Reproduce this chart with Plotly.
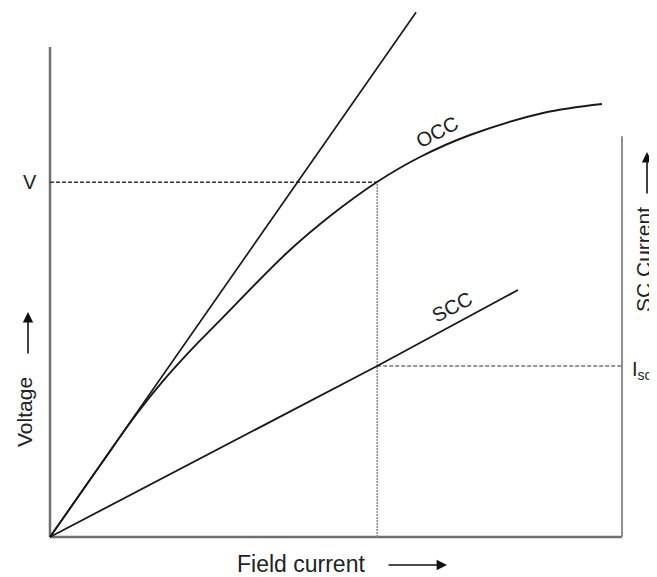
import plotly.graph_objects as go

# ---- data (arbitrary units) ----
occ_x = [0, 8.74, 15.21, 20.10, 25.00, 29.72, 41.43, 49.30, 57.17, 64.69, 73.43, 86.19, 96.50]
occ_y = [0, 14.59, 25.20, 32.30, 38.60, 44.20, 58.00, 65.80, 72.45, 77.55, 82.04, 86.53, 88.37]
scc_x = [0, 57.2, 81.8]
scc_y = [0, 34.9, 50.4]
airgap_x = [0, 64.0]
airgap_y = [0, 107.1]
v_level = 72.4
isc_level = 34.9
if_op = 57.2
x_axis_end = 100
y_axis_top = 100
sc_axis_top = 81.8

# the page body has an 8px margin, so the figure starts at (8, 8)
OFF = 8
W, H = 657 - OFF, 577 - OFF
SX, SY = 5.72, 4.9          # pixels per unit
X0, Y0 = 50, 537            # origin in window pixels

def px2x(px):
    return (px - X0) / SX

def py2y(py):
    return (Y0 - py) / SY

XR = [px2x(OFF), px2x(657)]
YR = [py2y(577), py2y(OFF)]

fig = go.Figure()
axis_col = "#707070"
curve_col = "#1a1a1a"

# axes
fig.add_trace(go.Scatter(x=[0, 0], y=[y_axis_top, 0], mode="lines",
                         line=dict(color=axis_col, width=2.5), hoverinfo="skip"))
fig.add_trace(go.Scatter(x=[0, x_axis_end], y=[0, 0], mode="lines",
                         line=dict(color=axis_col, width=2.5), hoverinfo="skip"))
fig.add_trace(go.Scatter(x=[x_axis_end, x_axis_end], y=[0, sc_axis_top], mode="lines",
                         line=dict(color="#909090", width=2), hoverinfo="skip"))

# guide lines
fig.add_trace(go.Scatter(x=[0, if_op], y=[v_level, v_level], mode="lines",
                         line=dict(color="#333333", width=1.3, dash="4px,2px"), hoverinfo="skip"))
fig.add_trace(go.Scatter(x=[if_op, if_op], y=[0, v_level], mode="lines",
                         line=dict(color="#8a8a8a", width=1.5, dash="2px,1px"), hoverinfo="skip"))
fig.add_trace(go.Scatter(x=[if_op, x_axis_end], y=[isc_level, isc_level], mode="lines",
                         line=dict(color="#777777", width=1.3, dash="4px,2px"), hoverinfo="skip"))

# curves
fig.add_trace(go.Scatter(x=airgap_x, y=airgap_y, mode="lines",
                         line=dict(color=curve_col, width=1.7), hoverinfo="skip"))
fig.add_trace(go.Scatter(x=occ_x, y=occ_y, mode="lines",
                         line=dict(color=curve_col, width=1.9, shape="spline", smoothing=1.0),
                         hoverinfo="skip"))
fig.add_trace(go.Scatter(x=scc_x, y=scc_y, mode="lines",
                         line=dict(color=curve_col, width=1.8), hoverinfo="skip"))

fam = "Liberation Sans, Arial, sans-serif"
font = dict(family=fam, size=20, color="#222222")

ann = []
ann.append(dict(x=px2x(437), y=py2y(132), text="OCC", textangle=-28, showarrow=False, font=font))
ann.append(dict(x=px2x(452), y=py2y(307), text="SCC", textangle=-28, showarrow=False, font=font))
ann.append(dict(x=px2x(30), y=py2y(182), text="V", showarrow=False, font=font))
ann.append(dict(x=px2x(630), y=py2y(370), text="I<sub>sc</sub>", xanchor="left",
                showarrow=False, font=font))
ann.append(dict(x=px2x(24), y=py2y(412), text="Voltage", textangle=-90, showarrow=False,
                font=dict(family=fam, size=21, color="#222222")))
ann.append(dict(x=px2x(301), y=py2y(564), text="Field current", showarrow=False,
                font=dict(family=fam, size=23, color="#222222")))
ann.append(dict(x=px2x(643), y=py2y(260), text="SC Current", textangle=-90, showarrow=False,
                font=dict(family=fam, size=21, color="#222222")))

# arrows
arrow_style = dict(text="", showarrow=True, arrowhead=2, arrowsize=1.3, arrowwidth=1.6,
                   arrowcolor="#111111", axref="x", ayref="y")
ann.append(dict(x=px2x(28), y=py2y(312), ax=px2x(28), ay=py2y(355), **arrow_style))
ann.append(dict(x=px2x(447), y=py2y(565), ax=px2x(387), ay=py2y(565), **arrow_style))
ann.append(dict(x=px2x(647), y=py2y(152), ax=px2x(647), ay=py2y(195), **arrow_style))

fig.update_layout(
    width=W, height=H, autosize=False,
    margin=dict(l=0, r=0, t=0, b=0),
    paper_bgcolor="white", plot_bgcolor="white",
    showlegend=False,
    xaxis=dict(range=XR, visible=False, fixedrange=True),
    yaxis=dict(range=YR, visible=False, fixedrange=True),
    annotations=ann,
)

fig.write_html("out.html", config={"displayModeBar": False})
